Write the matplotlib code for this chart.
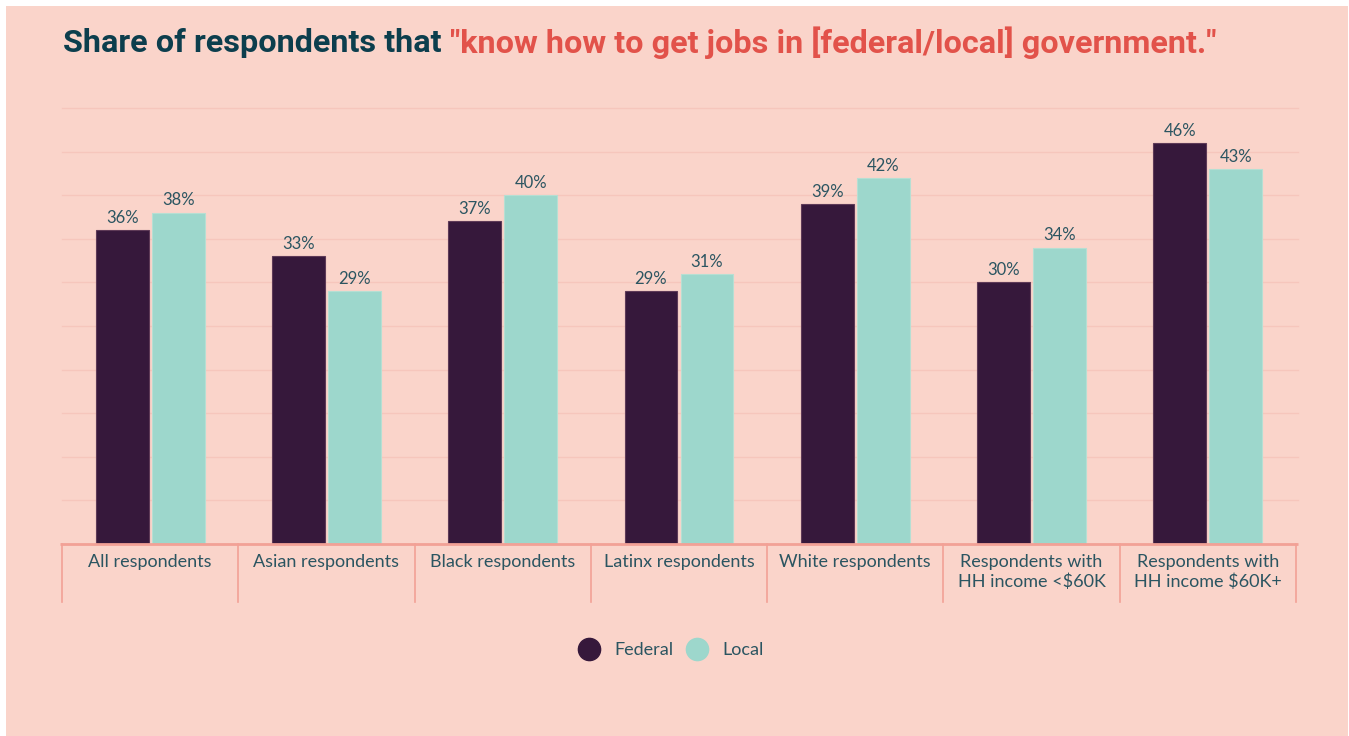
import matplotlib
matplotlib.use("Agg")
import matplotlib.pyplot as plt
from matplotlib.patches import Rectangle
from matplotlib.lines import Line2D
import numpy as np

categories = [
    "All respondents",
    "Asian respondents",
    "Black respondents",
    "Latinx respondents",
    "White respondents",
    "Respondents with\nHH income <$60K",
    "Respondents with\nHH income $60K+",
]
federal = [36, 33, 37, 29, 39, 30, 46]
local = [38, 29, 40, 31, 42, 34, 43]
series_names = ["Federal", "Local"]

BG = "#FAD4CA"
GRID = "#F6C6BC"
AXIS = "#F2A196"
FED = "#36183B"
LOC = "#9DD7CC"
TEXT = "#2B5561"
TITLE_DARK = "#0C3E4D"
TITLE_RED = "#E2524A"

W, H = 1349, 736
fig = plt.figure(figsize=(W / 100, H / 100), dpi=100, facecolor="white")
fig.patches.append(Rectangle((6 / W, 0), (1348 - 6) / W, (736 - 6) / H,
                             transform=fig.transFigure, facecolor=BG,
                             edgecolor="none", zorder=-10))

ax = fig.add_axes([62 / W, (H - 544) / H, (1296 - 62) / W, (544 - 108) / H])
ax.set_facecolor("none")
x = np.arange(len(categories))
off, bw = 0.159, 0.30

ax.set_xlim(-0.5, len(categories) - 0.5)
ax.set_ylim(0, 50)

for v in np.arange(5, 51, 5):
    ax.axhline(v, color=GRID, lw=1.0, zorder=0, xmax=1.002, clip_on=False)

b1 = ax.bar(x - off, federal, bw, color=FED, edgecolor="#5E3A57", lw=0.8, zorder=2)
b2 = ax.bar(x + off, local, bw, color=LOC, edgecolor="#B6DFD3", lw=0.8, zorder=2)

for bars, vals in ((b1, federal), (b2, local)):
    for r, v in zip(bars, vals):
        ax.annotate(f"{v}%", (r.get_x() + r.get_width() / 2, v),
                    xytext=(0, 3), textcoords="offset points",
                    ha="center", va="bottom", fontsize=12,
                    family="Lato", color=TEXT)

# baseline and category separators
ax.plot([-0.51, len(categories) - 0.49], [0, 0], color=AXIS, lw=2,
        clip_on=False, zorder=3, solid_capstyle="butt")
for b in np.arange(-0.5, len(categories), 1.0):
    ax.plot([b, b], [0, -6.65], color=AXIS, lw=1.2, clip_on=False, zorder=3)

for xi, lab in zip(x, categories):
    ax.text(xi, -1.1, lab, ha="center", va="top", fontsize=13,
            family="Lato", color=TEXT, linespacing=1.3)

ax.set_xticks([])
ax.set_yticks([])
for s in ax.spines.values():
    s.set_visible(False)

handles = [Line2D([], [], marker="o", ls="none", ms=16, color=FED, mec=FED),
           Line2D([], [], marker="o", ls="none", ms=16, color=LOC, mec=LOC)]
leg = fig.legend(handles, series_names, loc="center",
                 bbox_to_anchor=(672 / W, 1 - 650 / H), ncol=2, frameon=False,
                 handlelength=1.0, handletextpad=0.9, columnspacing=0.8,
                 prop={"family": "Lato", "size": 13})
for t in leg.get_texts():
    t.set_color(TEXT)

# two-colour title
ty = 1 - 43 / H
t1 = fig.text(63 / W, ty, "Share of respondents that ", fontsize=23.3,
              fontweight="bold", family="Roboto", color=TITLE_DARK, va="center")
fig.canvas.draw()
bb = t1.get_window_extent()
fig.text(bb.x1 / W, ty, "\"know how to get jobs in [federal/local] government.\"",
         fontsize=23.3, fontweight="bold", family="Roboto", color=TITLE_RED,
         va="center")

fig.savefig("out.png", dpi=100, facecolor="white")
